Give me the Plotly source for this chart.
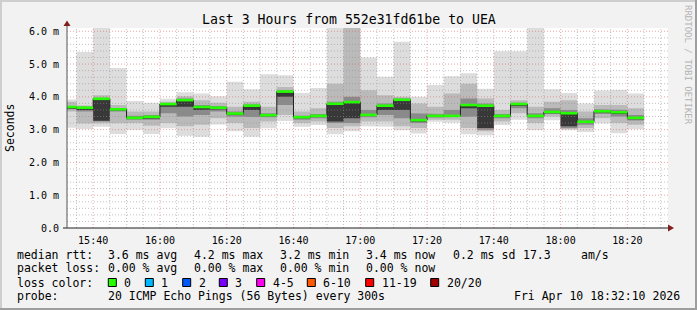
import plotly.graph_objects as go
import pandas as pd

# ---------------- data ----------------
bar_end = pd.date_range("2026-04-10 15:35:00", periods=35, freq="5min")
bar_start = bar_end - pd.Timedelta(minutes=5)
x_start = pd.Timestamp("2026-04-10 15:32:10")
x_end = pd.Timestamp("2026-04-10 18:32:10")

# sorted-ping quantiles per 5-minute step (milliseconds)
ping_01 = [3.06, 3.02, 3.09, 2.87, 3.00, 2.87, 3.04, 2.81, 2.78, 3.16, 2.95, 2.78,
           3.04, 3.26, 3.09, 3.14, 2.86, 2.95, 3.10, 3.09, 2.98, 2.88, 3.24, 3.21,
           2.86, 2.83, 3.14, 3.30, 2.98, 3.29, 2.98, 2.93, 3.19, 2.89, 3.01]
ping_20 = [3.92, 5.37, 6.30, 4.88, 3.87, 3.82, 3.94, 4.14, 4.10, 4.02, 4.46, 4.23,
           4.69, 4.66, 4.12, 4.27, 6.30, 6.30, 5.20, 4.61, 5.68, 4.00, 4.36, 4.63,
           4.72, 4.25, 5.39, 5.39, 6.30, 4.23, 4.12, 3.80, 4.19, 4.22, 4.10]
ping_04 = [3.55, 3.19, 3.20, 3.20, 3.20, 3.12, 3.20, 3.10, 3.15, 3.35, 3.20, 3.05,
           3.25, 3.45, 3.20, 3.25, 3.05, 3.10, 3.25, 3.25, 3.10, 3.05, 3.30, 3.30,
           3.05, 2.95, 3.25, 3.50, 3.20, 3.40, 3.02, 3.05, 3.35, 3.20, 3.15]
ping_17 = [3.85, 3.74, 4.05, 3.75, 3.55, 3.55, 3.85, 4.02, 3.90, 3.82, 3.70, 3.85,
           3.70, 4.30, 3.55, 3.65, 4.40, 6.30, 4.20, 4.05, 4.00, 3.80, 3.70, 4.10,
           4.40, 3.95, 3.60, 3.90, 3.70, 3.85, 3.90, 3.55, 3.75, 3.75, 3.65]
ping_08 = [3.62, 3.55, 3.25, 3.55, 3.30, 3.30, 3.50, 3.40, 3.45, 3.55, 3.40, 3.40,
           3.38, 3.75, 3.30, 3.35, 3.20, 3.20, 3.38, 3.45, 3.35, 3.20, 3.37, 3.38,
           3.40, 3.00, 3.35, 3.65, 3.35, 3.48, 3.05, 3.15, 3.48, 3.40, 3.28]
ping_13 = [3.72, 3.70, 3.97, 3.66, 3.42, 3.45, 3.80, 3.95, 3.75, 3.72, 3.55, 3.77,
           3.50, 4.20, 3.42, 3.48, 3.85, 4.00, 3.60, 3.80, 3.95, 3.50, 3.48, 3.60,
           3.95, 3.80, 3.48, 3.82, 3.50, 3.65, 3.60, 3.35, 3.62, 3.60, 3.45]
ping_10 = [3.64, 3.60, 3.27, 3.58, 3.33, 3.34, 3.70, 3.70, 3.60, 3.62, 3.45, 3.60,
           3.41, 4.00, 3.35, 3.39, 3.25, 3.35, 3.42, 3.60, 3.60, 3.25, 3.40, 3.40,
           3.65, 3.05, 3.39, 3.72, 3.39, 3.50, 3.10, 3.20, 3.52, 3.48, 3.32]
median = [3.69, 3.67, 3.94, 3.62, 3.36, 3.39, 3.78, 3.90, 3.69, 3.67, 3.49, 3.73,
          3.44, 4.16, 3.38, 3.42, 3.79, 3.84, 3.45, 3.73, 3.91, 3.29, 3.42, 3.42,
          3.75, 3.73, 3.42, 3.78, 3.42, 3.54, 3.50, 3.24, 3.56, 3.53, 3.36]

y_ticks = [0, 1, 2, 3, 4, 5, 6]
y_ticktext = ["0.0", "1.0 m", "2.0 m", "3.0 m", "4.0 m", "5.0 m", "6.0 m"]
x_ticktext = ["15:40", "16:00", "16:20", "16:40", "17:00", "17:20", "17:40", "18:00", "18:20"]

title_text = "Last 3 Hours from 552e31fd61be to UEA"
rtt_stats = ["3.6 ms avg", "4.2 ms max", "3.2 ms min", "3.4 ms now", "0.2 ms sd", "17.3", "am/s"]
loss_stats = ["0.00 % avg", "0.00 % max", "0.00 % min", "0.00 % now"]
loss_labels = ["0", "1", "2", "3", "4-5", "6-10", "11-19", "20/20"]
loss_colors = ["#26ff00", "#00b8ff", "#0059ff", "#7700ff", "#ff00f0", "#ff5a00", "#ff0000", "#9e0000"]
probe_text = "20 ICMP Echo Pings (56 Bytes) every 300s"
stamp_text = "Fri Apr 10 18:32:10 2026"

# ---------------- layout geometry ----------------
W, H = 697, 310
ML, MR, MT, MB = 67, 29, 28, 82
PW, PH = W - ML - MR, H - MT - MB
Y_MAX = 6.1
MONO = "DejaVu Sans Mono"


def px(x):
    return (x - ML) / PW


def py(y):
    return (H - MB - y) / PH


def band(lo, hi):
    xs, ys = [], []
    for s, e, h in zip(bar_start, bar_end, hi):
        xs += [s, e]
        ys += [h, h]
    for s, e, l in reversed(list(zip(bar_start, bar_end, lo))):
        xs += [e, s]
        ys += [l, l]
    return xs, ys


fig = go.Figure()

layers = [(ping_01, ping_20, "#dddddd"), (ping_04, ping_17, "#bababa"),
          (ping_08, ping_13, "#8a8a8a"), (ping_10, median, "#383838")]
for lo, hi, col in layers:
    bx, by = band(lo, hi)
    fig.add_trace(go.Scatter(x=bx, y=by, fill="toself", fillcolor=col, mode="lines",
                             line=dict(width=0), hoverinfo="skip", showlegend=False))

# grid (drawn over the smoke like rrdtool)
minor_h, major_h, minor_v, major_v = ([], []), ([], []), ([], []), ([], [])
for k in range(1, 31):
    yv = k * 0.2
    tgt = major_h if k % 5 == 0 else minor_h
    tgt[0].extend([x_start, x_end, None])
    tgt[1].extend([yv, yv, None])
for t in pd.date_range("2026-04-10 15:35:00", "2026-04-10 18:30:00", freq="5min"):
    tgt = major_v if t.minute % 20 == 0 else minor_v
    tgt[0].extend([t, t, None])
    tgt[1].extend([0, Y_MAX, None])
for (gx, gy), col in [(minor_h, "rgba(143,143,143,0.55)"), (minor_v, "rgba(143,143,143,0.55)"),
                      (major_h, "rgba(222,79,79,0.5)"), (major_v, "rgba(222,79,79,0.5)")]:
    fig.add_trace(go.Scatter(x=gx, y=gy, mode="lines", line=dict(color=col, width=1, dash="1px,2px"),
                             hoverinfo="skip", showlegend=False))

# median: thin black step line + green band
fig.add_trace(go.Scatter(x=list(bar_start) + [bar_end[-1]], y=median + [median[-1]], mode="lines",
                         line=dict(color="#202020", width=1, shape="hv"), hoverinfo="skip", showlegend=False))
gx, gy = [], []
for s, e, m in zip(bar_start, bar_end, median):
    gx += [s, e, None]
    gy += [m, m, None]
fig.add_trace(go.Scatter(x=gx, y=gy, mode="lines", line=dict(color=loss_colors[0], width=2.6),
                         hoverinfo="skip", showlegend=False))

shapes = []
# axes lines and arrows
shapes.append(dict(type="line", xref="paper", yref="paper", x0=px(63), x1=px(669), y0=0, y1=0,
                   line=dict(color="#1f1f1f", width=1), layer="above"))
shapes.append(dict(type="line", xref="paper", yref="paper", x0=0, x1=0, y0=0, y1=py(25),
                   line=dict(color="#555555", width=1), layer="above"))
shapes.append(dict(type="path", xref="paper", yref="paper",
                   path=f"M {px(668)} {py(224.5)} L {px(674)} {py(228)} L {px(668)} {py(231.5)} Z",
                   fillcolor="#801f1f", line=dict(width=0), layer="above"))
shapes.append(dict(type="path", xref="paper", yref="paper",
                   path=f"M {px(63.5)} {py(26)} L {px(67)} {py(20.5)} L {px(70.5)} {py(26)} Z",
                   fillcolor="#801f1f", line=dict(width=0), layer="above"))
# image frame
for x0, y0, x1, y1, col in [(0, 0, W, 2, "#cecece"), (0, 0, 2, H, "#cecece"),
                            (0, H - 2, W, H, "#9e9e9e"), (W - 2, 0, W, H, "#9e9e9e")]:
    shapes.append(dict(type="rect", xref="paper", yref="paper", x0=px(x0), x1=px(x1),
                       y0=py(y1), y1=py(y0), fillcolor=col, line=dict(width=0), layer="above"))

annotations = []


def text(s, x, y, size=11.5, anchor="left", color="#000000", angle=0, yanchor="middle"):
    annotations.append(dict(text=s, x=px(x), y=py(y), xref="paper", yref="paper", showarrow=False,
                            xanchor=anchor, yanchor=yanchor, textangle=angle, borderpad=0,
                            font=dict(family=MONO, size=size, color=color)))


text(title_text, 348.5, 19, size=13.2, anchor="center")
text("Seconds", 10, 128, size=11.5, anchor="center", angle=-90)
text("RRDTOOL / TOBI OETIKER", 688, 4, size=9, anchor="center", color="#b4b4b4", angle=90, yanchor="top")

Y1, Y2, Y3, Y4 = 254.5, 268, 282.5, 296
text("median rtt:", 16, Y1)
for s, x in zip(rtt_stats, [107.3, 193.3, 279, 365, 451.7, 521.7, 580]):
    text(s, x, Y1)
text("packet loss:", 16, Y2)
for s, x in zip(loss_stats, [107.3, 193.3, 279, 365]):
    text(s, x, Y2)
text("loss color:", 16, Y3)
for lab, col, bxp in zip(loss_labels, loss_colors, [108.3, 145.3, 182.7, 219.3, 256.7, 307.3, 365.7, 430.7]):
    shapes.append(dict(type="rect", xref="paper", yref="paper", x0=px(bxp), x1=px(bxp + 8),
                       y0=py(286.5), y1=py(278.5), fillcolor=col, line=dict(color="#000000", width=1),
                       layer="above"))
    text(lab, bxp + 15, Y3)
text("probe:", 16, Y4)
text(probe_text, 107.3, Y4)
text(stamp_text, 513.3, Y4)

fig.update_layout(
    width=W, height=H, autosize=False,
    margin=dict(l=ML, r=MR, t=MT, b=MB, pad=0),
    paper_bgcolor="#f2f2f2", plot_bgcolor="#ffffff",
    showlegend=False,
    shapes=shapes, annotations=annotations,
    xaxis=dict(range=[x_start, x_end], showgrid=False, zeroline=False, showline=False,
               tickvals=list(pd.date_range("2026-04-10 15:40", periods=9, freq="20min")),
               ticktext=x_ticktext, ticks="outside", ticklen=3, tickcolor="rgba(0,0,0,0)",
               tickfont=dict(family=MONO, size=10, color="#000000")),
    yaxis=dict(range=[0, Y_MAX], showgrid=False, zeroline=False, showline=False,
               tickvals=y_ticks, ticktext=y_ticktext, ticks="outside", ticklen=5,
               tickcolor="rgba(0,0,0,0)", tickfont=dict(family=MONO, size=10, color="#000000")),
)

fig.write_html("out.html")
